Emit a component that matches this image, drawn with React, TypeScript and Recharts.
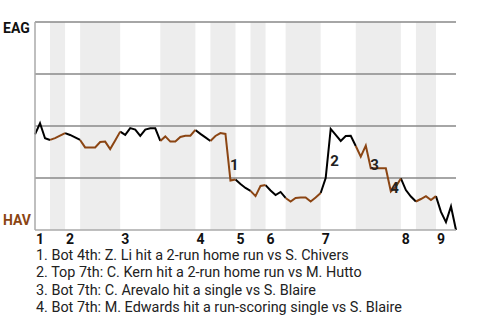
import { LineChart, Line, XAxis, YAxis, ReferenceLine, ReferenceArea, ReferenceDot } from 'recharts';

// EAG win probability (%) after each plate appearance
const eagWinPct = [
  46.0, 51.3, 44.1, 43.3, 44.2, 45.4, 46.6, 45.7, 44.5, 43.3,
  39.7, 39.7, 39.7, 42.3, 42.5, 38.9, 43.0, 47.3, 45.7, 49.0,
  48.3, 45.2, 48.3, 48.9, 48.9, 42.8, 45.0, 42.5, 42.5, 44.7,
  45.3, 45.3, 48.1, 46.2, 44.5, 42.8, 45.2, 46.6, 46.2, 23.8,
  24.3, 22.1, 20.2, 18.8, 16.3, 21.2, 21.6, 19.0, 16.8, 18.3,
  15.4, 13.7, 15.4, 15.6, 15.6, 13.7, 15.6, 17.8, 25.0, 48.6,
  45.7, 42.8, 45.2, 45.3, 40.4, 35.3, 40.6, 29.7, 29.7, 29.7,
  29.7, 18.5, 20.9, 24.8, 19.2, 16.1, 13.7, 14.9, 16.3, 14.4,
  16.3, 8.7, 3.8, 11.3, 0,
];

// plate appearance index where each half inning starts / ends (top 1st, bot 1st, ...)
const halfBounds = [0, 3, 6, 9, 17, 25, 32, 35, 40, 43, 46, 50, 57, 64, 73, 76, 80, 84];
const inningNumbers = [1, 2, 3, 4, 5, 6, 7, 8, 9];
const gridValues = [25, 50, 75, 100];

const plays = [
  '1. Bot 4th: Z. Li hit a 2-run home run vs S. Chivers',
  '2. Top 7th: C. Kern hit a 2-run home run vs M. Hutto',
  '3. Bot 7th: C. Arevalo hit a single vs S. Blaire',
  '4. Bot 7th: M. Edwards hit a run-scoring single vs S. Blaire',
];
const playIndex = [39, 59, 67, 71];

const BROWN = '#8b4513';
const FONT = 'Roboto, sans-serif';

const rows = eagWinPct.map((v, i) => {
  let top: number | null = null;
  let bottom: number | null = null;
  for (let h = 0; h < halfBounds.length - 1; h++) {
    if (i >= halfBounds[h] && i <= halfBounds[h + 1]) {
      if (h % 2 === 0) top = v;
      else bottom = v;
    }
  }
  return { i, top, bottom };
});

const inningStarts = inningNumbers.map((n) => halfBounds[(n - 1) * 2]);
const bottomHalves = halfBounds.slice(0, -1)
  .map((b, h) => ({ h, x1: b, x2: halfBounds[h + 1] }))
  .filter((d) => d.h % 2 === 1);

const InningTick = (props: any) => {
  const { x, y, payload } = props;
  const n = inningNumbers[inningStarts.indexOf(payload.value)];
  return (
    <text x={x + 1} y={y + 11.5} textAnchor="start" fontSize={14} fontWeight="bold" fill="#111" fontFamily={FONT}>
      {n}
    </text>
  );
};

const TeamTick = (props: any) => {
  const { y, payload } = props;
  const isTop = payload.value === 100;
  return (
    <text x={3} y={isTop ? y + 11 : y - 5} textAnchor="start" fontSize={14} fontWeight="bold"
      fill={isTop ? '#111' : BROWN} fontFamily={FONT}>
      {isTop ? 'EAG' : 'HAV'}
    </text>
  );
};

const PlayLabel = (props: any) => {
  const { viewBox, num } = props;
  const cx = viewBox.x + (viewBox.width || 0) / 2;
  const cy = viewBox.y + (viewBox.height || 0) / 2;
  return (
    <text x={cx + 2} y={cy + 13} fontSize={15} fontWeight="bold" fill="#222" fontFamily={FONT}>
      {num}
    </text>
  );
};

export default function App() {
  return (
    <div style={{ position: 'absolute', left: 0, top: 0, width: 480, height: 320, background: '#fff', fontFamily: FONT }}>
      <LineChart width={480} height={246} data={rows} margin={{ top: 22, right: 24, bottom: 1, left: 0 }}>
        {bottomHalves.map((b) => (
          <ReferenceArea key={b.h} x1={b.x1} x2={b.x2} y1={0} y2={100} fill="#ededed" fillOpacity={1} stroke="none" />
        ))}
        {gridValues.map((g) => (
          <ReferenceLine key={g} y={g} stroke="#888" strokeWidth={1.5} />
        ))}
        <XAxis dataKey="i" type="number" domain={[0, 84]} ticks={inningStarts} interval={0}
          tick={<InningTick />} tickLine={false} tickSize={0} height={15} stroke="#aaa" strokeWidth={1.5} />
        <YAxis type="number" domain={[0, 100]} ticks={[0, 100]} tick={<TeamTick />} tickLine={false}
          tickSize={0} width={35} stroke="#aaa" strokeWidth={1.5} />
        <Line dataKey="top" stroke="#000" strokeWidth={2} dot={false} connectNulls={false} isAnimationActive={false} />
        <Line dataKey="bottom" stroke={BROWN} strokeWidth={2} dot={false} connectNulls={false} isAnimationActive={false} />
        {playIndex.map((p, k) => (
          <ReferenceDot key={k} x={p - 0.5} y={(eagWinPct[p - 1] + eagWinPct[p]) / 2} r={0}
            fill="none" stroke="none" label={<PlayLabel num={k + 1} />} />
        ))}
      </LineChart>
      <div style={{ position: 'absolute', left: 36, top: 247.5, fontSize: 14.4, color: '#222' }}>
        {plays.map((p) => (
          <div key={p} style={{ height: 15.5, lineHeight: '15.5px', marginBottom: 2, whiteSpace: 'nowrap' }}>{p}</div>
        ))}
      </div>
    </div>
  );
}
